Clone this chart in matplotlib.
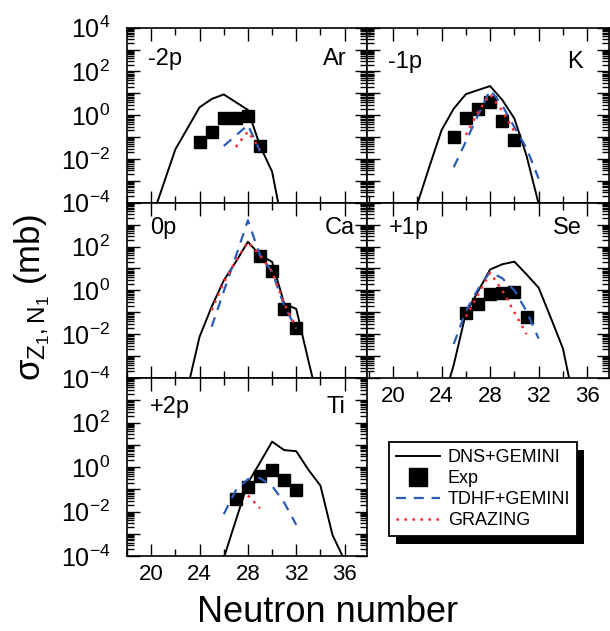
import matplotlib
matplotlib.use('Agg')
import matplotlib.pyplot as plt
import numpy as np
from matplotlib.ticker import FixedLocator, LogLocator, FuncFormatter, NullFormatter
from matplotlib.patches import Rectangle

plt.rcParams['font.family'] = ['Liberation Sans', 'DejaVu Sans']
plt.rcParams['mathtext.fontset'] = 'custom'
plt.rcParams['mathtext.rm'] = 'Liberation Sans'
plt.rcParams['mathtext.it'] = 'Liberation Sans'
plt.rcParams['mathtext.bf'] = 'Liberation Sans:bold'

# values are log10(sigma / mb)
# -2p  Ar
ar_dns_n = [20, 22, 24, 25, 26, 28, 29, 30, 31]
ar_dns = [-4.8, -1.56, 0.36, 0.74, 0.95, 0.24, -1.4, -2.58, -5.4]
ar_exp_n = [24, 25, 26, 27, 28, 29]
ar_exp = [-1.22, -0.78, -0.12, -0.12, -0.02, -1.40]
ar_tdhf_n = [26, 27, 28, 29]
ar_tdhf = [-1.41, -0.93, -0.45, -1.65]
ar_graz_n = [27, 28, 29]
ar_graz = [-1.45, -0.75, -1.55]

# -1p  K
k_dns_n = [22, 23, 24, 25, 26, 27, 28, 29, 30, 31, 32]
k_dns = [-4.05, -2.34, -0.68, 0.3, 0.96, 1.15, 1.33, 0.7, -0.15, -1.85, -4.05]
k_exp_n = [25, 26, 27, 28, 29, 30]
k_exp = [-0.98, -0.11, 0.27, 0.62, -0.27, -1.13]
k_tdhf_n = [25, 26, 27, 28, 29, 30, 31, 32]
k_tdhf = [-2.38, -1.2, 0.0, 1.15, 0.45, -0.55, -1.5, -2.9]
k_graz_n = [26, 27, 28, 29, 30]
k_graz = [-0.9, 0.15, 0.95, 0.2, -0.75]

# 0p  Ca
ca_dns_n = [23, 24, 25, 26, 27, 28, 29, 30, 31, 32, 33, 34]
ca_dns = [-4.5, -2.12, -0.75, 0.45, 1.3, 2.22, 1.6, 1.3, -0.6, -0.85, -3.2, -5.5]
ca_exp_n = [29, 30, 31, 32]
ca_exp = [1.57, 0.9, -0.87, -1.73]
ca_tdhf_n = [25, 26, 27, 28, 29, 30, 31, 32]
ca_tdhf = [-1.66, -0.05, 1.55, 3.2, 1.6, 0.85, -0.7, -1.75]
ca_graz_n = [25, 26, 27, 28, 29, 30, 31, 32]
ca_graz = [-0.9, 0.35, 1.35, 2.2, 1.6, 0.85, -0.6, -1.7]

# +1p  Se
se_dns_n = [24, 25, 26, 27, 28, 29, 30, 31, 32, 33, 34, 35]
se_dns = [-5.3, -3.4, -1.05, -0.05, 0.95, 1.19, 1.31, 0.73, 0.12, -1.25, -2.65, -5.3]
se_exp_n = [26, 27, 28, 29, 30, 31]
se_exp = [-1.05, -0.63, -0.17, -0.14, -0.06, -1.2]
se_tdhf_n = [25, 26, 27, 28, 29, 30, 31, 32]
se_tdhf = [-2.45, -0.95, 0.05, 0.85, 0.55, 0.0, -0.95, -2.2]
se_graz_n = [26, 27, 28, 29, 30, 31]
se_graz = [-1.2, -0.2, 0.8, 0.0, -1.0, -2.0]

# +2p  Ti
ti_dns_n = [26, 27, 28, 29, 30, 31, 32, 33, 34, 35, 36]
ti_dns = [-4.1, -2.4, -0.72, 0.2, 1.14, 0.76, 0.71, -0.12, -0.84, -3.06, -4.2]
ti_exp_n = [27, 28, 29, 30, 31, 32]
ti_exp = [-1.43, -0.9, -0.42, -0.12, -0.6, -1.05]
ti_tdhf_n = [26, 27, 28, 29, 30, 31, 32]
ti_tdhf = [-2.12, -1.05, -0.55, -0.5, -0.85, -1.6, -2.6]
ti_graz_n = [28, 29]
ti_graz = [-1.28, -1.85]

W, H = 610, 631
fig = plt.figure(figsize=(W / 100, H / 100), dpi=100)

def px_axes(x0, y0, x1, y1):
    # pixel box (top-left origin) -> figure axes
    return fig.add_axes([x0 / W, 1 - y1 / H, (x1 - x0) / W, (y1 - y0) / H])

blue = '#2a5cb8'
red = '#ff2b2b'

panels = [
    # box, xlim, shell label, element, label pos (px), data, show x labels, y label top
    ((127, 27.7, 367, 202.7), (18, 37.85), '-2p', 'Ar', (148, 347, 59),
     (ar_dns_n, ar_dns, ar_exp_n, ar_exp, ar_tdhf_n, ar_tdhf, ar_graz_n, ar_graz), False, 4),
    ((367, 27.7, 609, 202.7), (17.85, 37.8), '-1p', 'K', (388, 583, 62),
     (k_dns_n, k_dns, k_exp_n, k_exp, k_tdhf_n, k_tdhf, k_graz_n, k_graz), False, None),
    ((127, 202.7, 367, 378), (18, 37.85), '0p', 'Ca', (150, 355, 228),
     (ca_dns_n, ca_dns, ca_exp_n, ca_exp, ca_tdhf_n, ca_tdhf, ca_graz_n, ca_graz), False, 2),
    ((367, 202.7, 609, 378), (17.85, 37.8), '+1p', 'Se', (389, 582, 228),
     (se_dns_n, se_dns, se_exp_n, se_exp, se_tdhf_n, se_tdhf, se_graz_n, se_graz), True, None),
    ((127, 378, 367, 556), (18, 37.85), '+2p', 'Ti', (150, 345, 407),
     (ti_dns_n, ti_dns, ti_exp_n, ti_exp, ti_tdhf_n, ti_tdhf, ti_graz_n, ti_graz), True, 2),
]

def ylab(v, pos, top=4):
    e = int(round(np.log10(v)))
    if e % 2 or e > top:
        return ''
    return r'$10^{%d}$' % e

handles = None
for box, xl, shell, elem, lp, d, xlabels, ytop in panels:
    ax = px_axes(*box)
    dn, dv, en, ev, tn, tv, gn, gv = d
    l1, = ax.plot(dn, 10.0 ** np.array(dv), color='black', lw=1.4, zorder=2)
    l2, = ax.plot(en, 10.0 ** np.array(ev), 's', color='black', ms=8, zorder=3)
    l3, = ax.plot(tn, 10.0 ** np.array(tv), color=blue, lw=1.6, dashes=(4.5, 3.5), zorder=4)
    l4, = ax.plot(gn, 10.0 ** np.array(gv), color=red, lw=1.8, dashes=(1, 2.2), zorder=5)
    handles = [l1, l2, l3, l4]
    ax.set_yscale('log')
    ax.set_ylim(1e-4, 1e4)
    ax.set_xlim(*xl)
    ax.xaxis.set_major_locator(FixedLocator([20, 24, 28, 32, 36]))
    ax.xaxis.set_minor_locator(FixedLocator([18, 22, 26, 30, 34]))
    ax.yaxis.set_major_locator(FixedLocator([10.0 ** e for e in range(-4, 5)]))
    ax.yaxis.set_minor_locator(LogLocator(base=10, subs=np.arange(2, 10), numticks=100))
    ax.yaxis.set_minor_formatter(NullFormatter())
    ax.tick_params(which='both', direction='in', top=True, right=True, width=1.0)
    ax.tick_params(which='major', length=9)
    ax.tick_params(which='minor', length=5)
    ax.tick_params(axis='x', labelsize=16, pad=6)
    ax.tick_params(axis='y', labelsize=18, pad=12)
    if ytop is None:
        ax.yaxis.set_major_formatter(NullFormatter())
    else:
        ax.yaxis.set_major_formatter(FuncFormatter(lambda v, p, t=ytop: ylab(v, p, t)))
    if not xlabels:
        ax.xaxis.set_major_formatter(NullFormatter())
    for s in ax.spines.values():
        s.set_linewidth(1.2)
    fig.text(lp[0] / W, 1 - lp[2] / H, shell, fontsize=17, ha='left', va='center')
    fig.text(lp[1] / W, 1 - lp[2] / H, elem, fontsize=17, ha='right', va='center')

fig.text(32 / W, 1 - 297 / H, r'$\sigma_{\mathrm{Z_1,N_1}}$ (mb)', rotation=90,
         ha='center', va='center', fontsize=25)
fig.text(328 / W, 1 - 622 / H, 'Neutron number', ha='center', va='baseline', fontsize=26)

leg = fig.legend(handles, ['DNS+GEMINI', 'Exp', 'TDHF+GEMINI', 'GRAZING'],
                 loc='upper left', bbox_to_anchor=(389 / W, 1 - 442 / H),
                 borderaxespad=0, fontsize=13, frameon=True, fancybox=False,
                 framealpha=1, facecolor='white', markerscale=1.6,
                 handlelength=2.4, borderpad=0.4, labelspacing=0.22, handletextpad=0.45)
leg.get_frame().set_edgecolor('black')
leg.get_frame().set_linewidth(1.3)
leg.set_zorder(10)

fig.canvas.draw()
bb = leg.get_window_extent()
fig.patches.append(Rectangle((bb.x0 + 7, bb.y0 - 8), bb.width, bb.height,
                             transform=None, facecolor='black', edgecolor='none',
                             zorder=9))

fig.savefig('out.png', dpi=100)
